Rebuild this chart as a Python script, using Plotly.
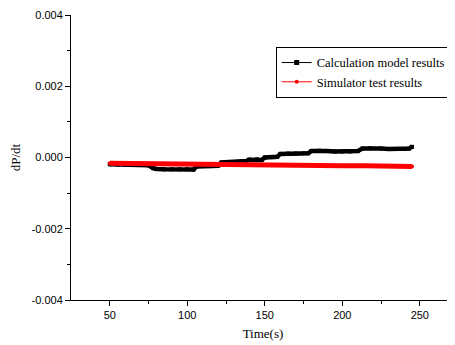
import plotly.graph_objects as go

calc_t = [50, 55, 60, 65, 70, 75, 78, 80, 85, 90, 95, 100, 104, 106, 110, 115, 120, 122, 125, 130,
          135, 138, 140, 145, 148, 150, 155, 158, 160, 165, 170, 175, 178, 180, 185, 190, 195, 200,
          205, 210, 213, 218, 225, 230, 235, 240, 243, 245]
calc_v = [-0.00019, -0.00020, -0.00020, -0.00021, -0.00021, -0.00022, -0.00030, -0.00032, -0.00033,
          -0.00033, -0.00033, -0.00033, -0.00034, -0.00025, -0.00024, -0.00024, -0.00023, -0.00014,
          -0.00013, -0.00013, -0.00012, -0.00010, -0.00006, -0.00005, -0.00007, 0.00000, 0.00001,
          0.00002, 0.00010, 0.00011, 0.00011, 0.00012, 0.00012, 0.00018, 0.00019, 0.00018, 0.00017,
          0.00017, 0.00017, 0.00018, 0.00025, 0.00026, 0.00025, 0.00024, 0.00024, 0.00024, 0.00025,
          0.00030]

sim_t = [50, 65, 80, 95, 110, 125, 140, 155, 170, 185, 200, 215, 230, 245]
sim_v = [-0.00016, -0.00017, -0.00018, -0.00018, -0.00019, -0.00019, -0.00020, -0.00021,
         -0.00021, -0.00022, -0.00023, -0.00023, -0.00024, -0.00025]

series_names = ["Calculation model results", "Simulator test results"]

x_ticks = [50, 100, 150, 200, 250]
y_ticks = [-0.004, -0.002, 0.0, 0.002, 0.004]
y_tick_labels = ["-0.004", "-0.002", "0.000", "0.002", "0.004"]

fig = go.Figure()
# data traces (thick, as in the dense-marker original)
fig.add_trace(go.Scatter(x=calc_t, y=calc_v, mode="lines+markers", name=series_names[0], showlegend=False,
                         line=dict(color="black", width=4.5), marker=dict(symbol="square", size=4, color="black")))
fig.add_trace(go.Scatter(x=sim_t, y=sim_v, mode="lines+markers", name=series_names[1], showlegend=False,
                         line=dict(color="#ff0000", width=5), marker=dict(symbol="circle", size=4, color="#ff0000")))
# legend entries with thin lines and small markers
fig.add_trace(go.Scatter(x=[None], y=[None], mode="lines+markers", name=series_names[0],
                         line=dict(color="black", width=1), marker=dict(symbol="square", size=5, color="black")))
fig.add_trace(go.Scatter(x=[None], y=[None], mode="lines+markers", name=series_names[1],
                         line=dict(color="#ff0000", width=1), marker=dict(symbol="circle", size=4, color="#ff0000")))

fig.update_layout(
    width=447, height=337,
    margin=dict(l=63, r=0, t=7, b=45),
    plot_bgcolor="white", paper_bgcolor="white",
    font=dict(family="Liberation Sans, Arial", size=11, color="black"),
    showlegend=True,
    legend=dict(x=0.533, y=0.888, xanchor="left", yanchor="top", bgcolor="white",
                bordercolor="black", borderwidth=1,
                font=dict(family="Liberation Serif, Times New Roman", size=12.5, color="black"),
                tracegroupgap=0, itemwidth=30),
)
fig.update_xaxes(range=[25, 272.7], tickvals=x_ticks, ticks="outside", ticklen=5, tickcolor="black",
                 showline=True, linecolor="black", linewidth=1, showgrid=False, zeroline=False,
                 minor=dict(tickvals=[75, 125, 175, 225], ticks="outside", ticklen=3, tickcolor="black"),
                 title=dict(text="Time(s)", font=dict(family="Liberation Serif, Times New Roman", size=13), standoff=8))
fig.update_yaxes(range=[-0.004, 0.004], tickvals=y_ticks, ticktext=y_tick_labels, ticks="outside", ticklen=5,
                 tickcolor="black", showline=True, linecolor="black", linewidth=1, showgrid=False, zeroline=False,
                 minor=dict(tickvals=[-0.003, -0.001, 0.001, 0.003], ticks="outside", ticklen=3, tickcolor="black"),
                 title=dict(text="dP/dt", font=dict(family="Liberation Serif, Times New Roman", size=13), standoff=10))

fig.write_html("out.html")
